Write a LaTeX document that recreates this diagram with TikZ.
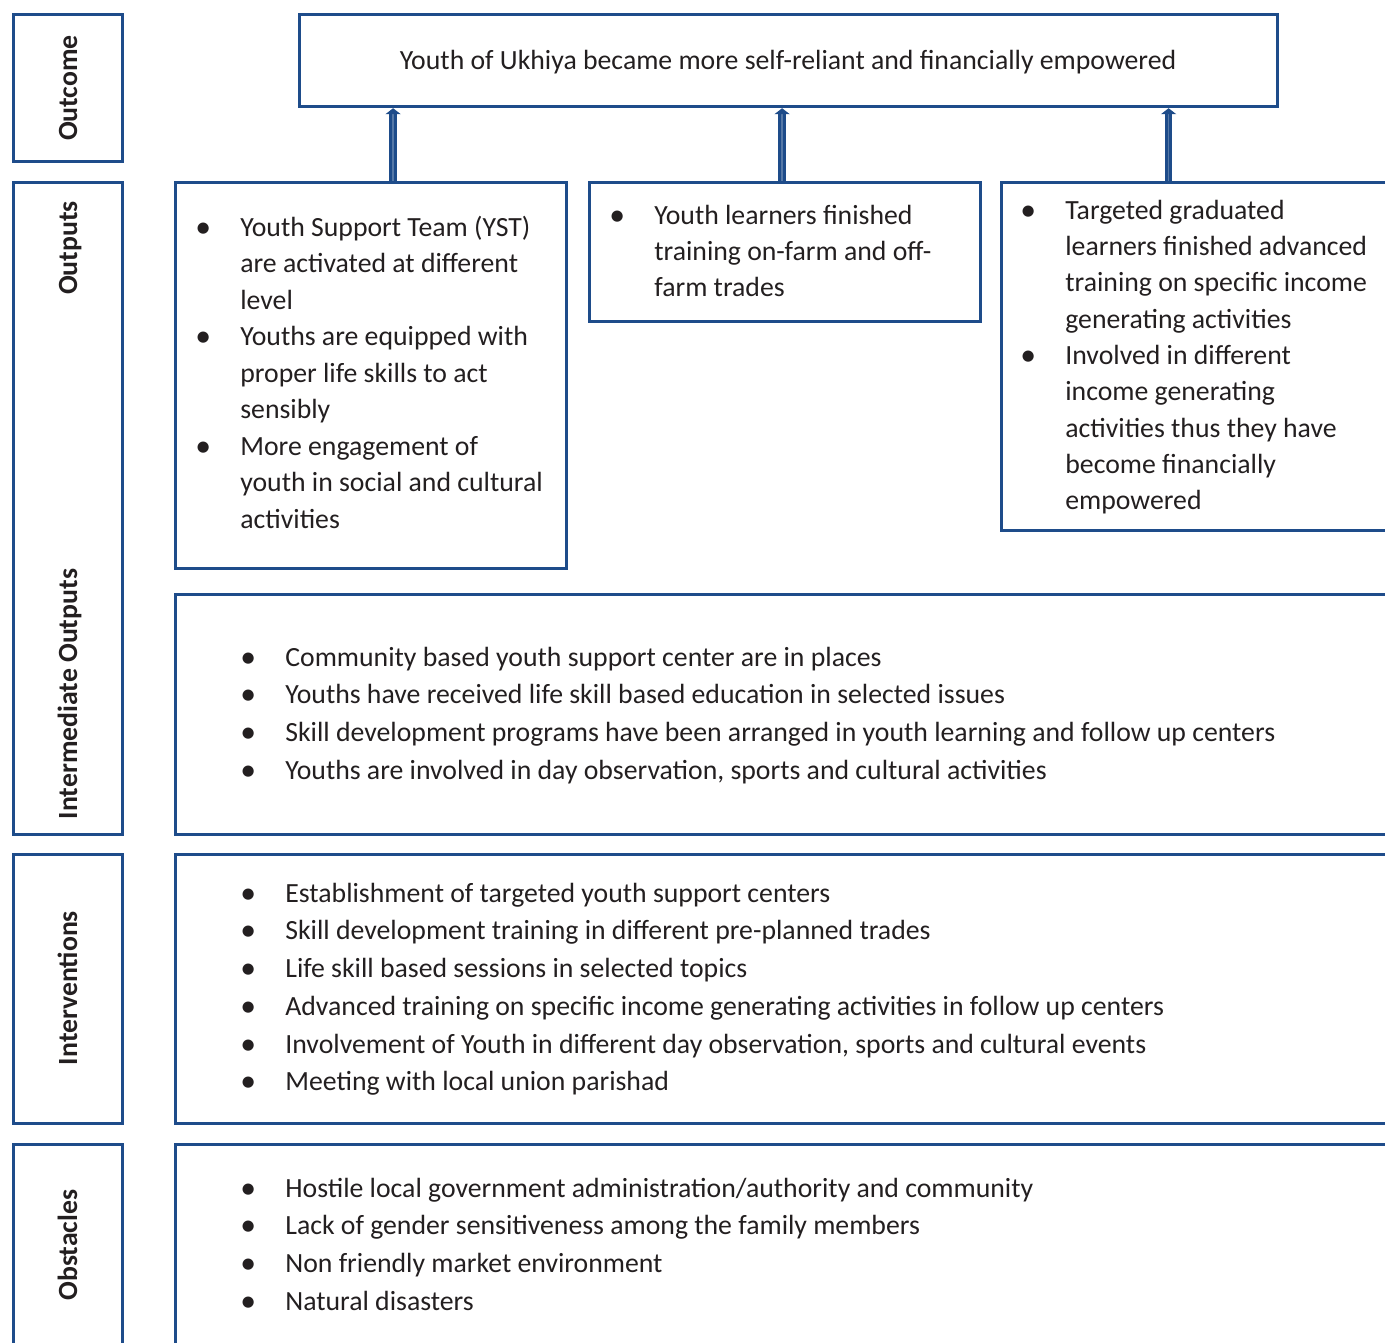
\documentclass[tikz,border=0pt]{standalone}
\usepackage{fontspec}
\setmainfont{Carlito}
\usepackage{array}
\usetikzlibrary{arrows.meta,positioning}
\definecolor{lfblue}{RGB}{30,76,138}
\definecolor{lftext}{RGB}{35,31,32}

% one pixel of the layout grid
\newcommand{\px}{0.02cm}
% bulleted block: bullet column + text column
\newcommand{\blist}[2][20.9pt]{{\fontsize{15.8pt}{#1}\selectfont
  \begin{tabular}[t]{@{}p{0.9cm}@{}l@{}}#2\end{tabular}}}
\newcommand{\itm}{\raisebox{-0.6pt}{\fontsize{18pt}{0pt}\selectfont\textbullet} &}

\begin{document}
\begin{tikzpicture}[
  x=0.02cm, y=-0.02cm,
  font=\fontsize{15.8pt}{20.9pt}\selectfont, text=lftext,
  frame/.style={draw=lfblue, line width=3.2*\px, anchor=north west, inner sep=0pt},
  lbl/.style={rotate=90, anchor=base, inner sep=0pt, font=\fontsize{15.8pt}{18pt}\selectfont\bfseries},
  txt/.style={anchor=base west, inner sep=0pt, align=left},
  uparrow/.style={draw=lfblue, line width=3*\px, double=lfblue!75, double distance=1.4*\px,
                  -{Triangle[width=0.3cm,length=0.12cm]}}
]
\useasboundingbox (0,0) rectangle (1385,1342);

% row labels on the left
\node[frame, minimum width=109*\px, minimum height=147*\px] (outcomeLbl) at (12,13) {};
\node[frame, minimum width=109*\px, minimum height=652*\px] (outputsLbl) at (12,181) {};
\node[frame, minimum width=109*\px, minimum height=269*\px] (intervLbl) at (12,853) {};
\node[frame, minimum width=109*\px, minimum height=250*\px] (obstLbl) at (12,1143) {};

\node[lbl] (tOutcome) at (77,88) {Outcome};
\node[lbl] (tOutputs) at (77,248) {Outputs};
\node[lbl] (tInterm) at (77,694) {Intermediate Outputs};
\node[lbl] (tInterv) at (77,988) {Interventions};
\node[lbl] (tObst) at (77,1245) {Obstacles};

% outcome
\node[frame, minimum width=978*\px, minimum height=92*\px] (outcome) at (298,13) {};
\node[anchor=base, inner sep=0pt] (outcomeTxt) at (788,69)
  {Youth of Ukhiya became more self-reliant and financially empowered};

% the three outputs
\node[frame, minimum width=391*\px, minimum height=386*\px] (outA) at (174,181) {};
\node[frame, minimum width=391*\px, minimum height=139*\px] (outB) at (588,181) {};
\node[frame, minimum width=420*\px, minimum height=348*\px] (outC) at (1000,181) {};

\node[txt] (outAtxt) at (195,236) {\blist[20.8pt]{
  \itm Youth Support Team (YST)\\
       & are activated at different\\
       & level\\
  \itm Youths are equipped with\\
       & proper life skills to act\\
       & sensibly\\
  \itm More engagement of\\
       & youth in social and cultural\\
       & activities}};
\node[txt] (outBtxt) at (609,224) {\blist[20.7pt]{
  \itm Youth learners finished\\
       & training on-farm and off-\\
       & farm trades}};
\node[txt] (outCtxt) at (1020,219) {\blist[20.7pt]{
  \itm Targeted graduated\\
       & learners finished advanced\\
       & training on specific income\\
       & generating activities\\
  \itm Involved in different\\
       & income generating\\
       & activities thus they have\\
       & become financially\\
       & empowered}};

% intermediate outputs, interventions, obstacles
\node[frame, minimum width=1230*\px, minimum height=240*\px] (interm) at (174,593) {};
\node[frame, minimum width=1230*\px, minimum height=269*\px] (interv) at (174,853) {};
\node[frame, minimum width=1230*\px, minimum height=250*\px] (obst) at (174,1143) {};

\node[txt] (intermTxt) at (240,666) {\blist[21.5pt]{
  \itm Community based youth support center are in places\\
  \itm Youths have received life skill based education in selected issues\\
  \itm Skill development programs have been arranged in youth learning and follow up centers\\
  \itm Youths are involved in day observation, sports and cultural activities}};
\node[txt] (intervTxt) at (240,902) {\blist[21.5pt]{
  \itm Establishment of targeted youth support centers\\
  \itm Skill development training in different pre-planned trades\\
  \itm Life skill based sessions in selected topics\\
  \itm Advanced training on specific income generating activities in follow up centers\\
  \itm Involvement of Youth in different day observation, sports and cultural events\\
  \itm Meeting with local union parishad}};
\node[txt] (obstTxt) at (240,1197) {\blist[21.5pt]{
  \itm Hostile local government administration/authority and community\\
  \itm Lack of gender sensitiveness among the family members\\
  \itm Non friendly market environment\\
  \itm Natural disasters}};

% outputs feed the outcome
\draw[uparrow] ([xshift=22*\px]outA.north) -- ([xshift=22*\px]outA.north |- outcome.south);
\draw[uparrow] ([xshift=-3*\px]outB.north) -- ([xshift=-3*\px]outB.north |- outcome.south);
\draw[uparrow] ([xshift=-43*\px]outC.north) -- ([xshift=-43*\px]outC.north |- outcome.south);

\end{tikzpicture}
\end{document}
